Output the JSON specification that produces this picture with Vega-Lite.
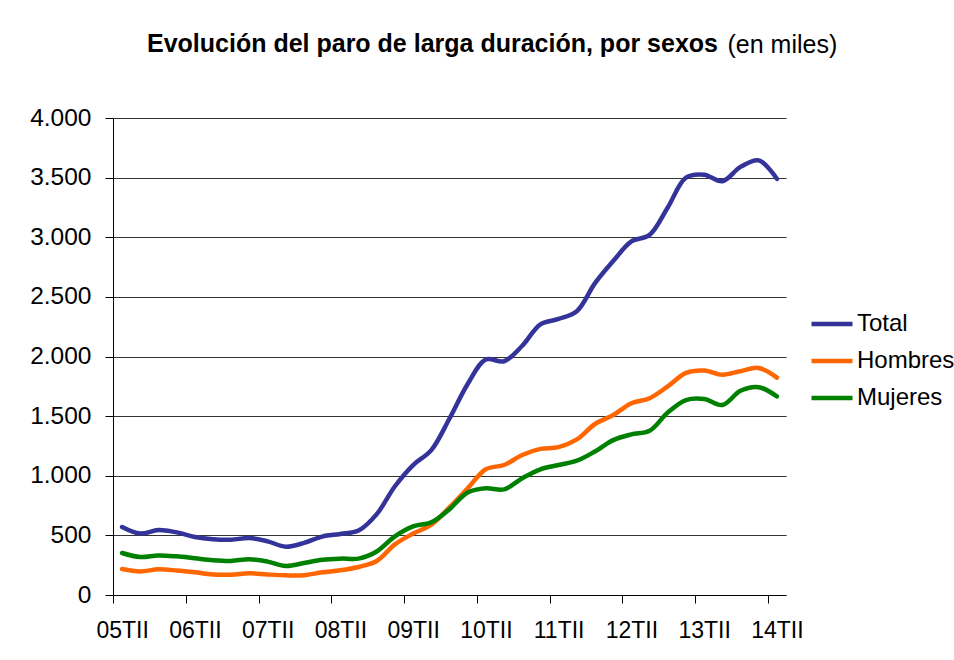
{
  "$schema": "https://vega.github.io/schema/vega-lite/v6.json",
  "autosize": "none",
  "width": 673,
  "height": 477,
  "padding": {"left": 113, "top": 118, "right": 168, "bottom": 65},
  "background": "white",
  "title": {
    "text": "Evolución del paro de larga duración, por sexos",
    "anchor": "start",
    "frame": "group",
    "dx": 34,
    "dy": 35,
    "offset": 10,
    "fontSize": 25,
    "fontWeight": "bold",
    "font": "Liberation Sans",
    "color": "black"
  },
  "data": {
    "values": [
      {"trimestre": "05TII", "Total": 570, "Hombres": 218, "Mujeres": 352},
      {"trimestre": "05TIII", "Total": 515, "Hombres": 198, "Mujeres": 318},
      {"trimestre": "05TIV", "Total": 545, "Hombres": 215, "Mujeres": 332},
      {"trimestre": "06TI", "Total": 525, "Hombres": 205, "Mujeres": 324},
      {"trimestre": "06TII", "Total": 487, "Hombres": 190, "Mujeres": 308},
      {"trimestre": "06TIII", "Total": 468, "Hombres": 172, "Mujeres": 292},
      {"trimestre": "06TIV", "Total": 464, "Hombres": 170, "Mujeres": 286},
      {"trimestre": "07TI", "Total": 477, "Hombres": 182, "Mujeres": 300},
      {"trimestre": "07TII", "Total": 450, "Hombres": 172, "Mujeres": 280},
      {"trimestre": "07TIII", "Total": 405, "Hombres": 165, "Mujeres": 243},
      {"trimestre": "07TIV", "Total": 437, "Hombres": 166, "Mujeres": 268},
      {"trimestre": "08TI", "Total": 490, "Hombres": 190, "Mujeres": 296},
      {"trimestre": "08TII", "Total": 512, "Hombres": 207, "Mujeres": 305},
      {"trimestre": "08TIII", "Total": 540, "Hombres": 235, "Mujeres": 305},
      {"trimestre": "08TIV", "Total": 678, "Hombres": 285, "Mujeres": 365},
      {"trimestre": "09TI", "Total": 912, "Hombres": 425, "Mujeres": 492},
      {"trimestre": "09TII", "Total": 1090, "Hombres": 515, "Mujeres": 575},
      {"trimestre": "09TIII", "Total": 1215, "Hombres": 590, "Mujeres": 610},
      {"trimestre": "09TIV", "Total": 1480, "Hombres": 735, "Mujeres": 720},
      {"trimestre": "10TI", "Total": 1770, "Hombres": 895, "Mujeres": 860},
      {"trimestre": "10TII", "Total": 1975, "Hombres": 1055, "Mujeres": 895},
      {"trimestre": "10TIII", "Total": 1960, "Hombres": 1090, "Mujeres": 886},
      {"trimestre": "10TIV", "Total": 2090, "Hombres": 1174, "Mujeres": 979},
      {"trimestre": "11TI", "Total": 2270, "Hombres": 1225, "Mujeres": 1054},
      {"trimestre": "11TII", "Total": 2315, "Hombres": 1240, "Mujeres": 1090},
      {"trimestre": "11TIII", "Total": 2380, "Hombres": 1305, "Mujeres": 1126},
      {"trimestre": "11TIV", "Total": 2615, "Hombres": 1434, "Mujeres": 1204},
      {"trimestre": "12TI", "Total": 2800, "Hombres": 1509, "Mujeres": 1299},
      {"trimestre": "12TII", "Total": 2965, "Hombres": 1608, "Mujeres": 1347},
      {"trimestre": "12TIII", "Total": 3020, "Hombres": 1650, "Mujeres": 1377},
      {"trimestre": "12TIV", "Total": 3250, "Hombres": 1749, "Mujeres": 1530},
      {"trimestre": "13TI", "Total": 3500, "Hombres": 1862, "Mujeres": 1635},
      {"trimestre": "13TII", "Total": 3525, "Hombres": 1883, "Mujeres": 1644},
      {"trimestre": "13TIII", "Total": 3470, "Hombres": 1847, "Mujeres": 1593},
      {"trimestre": "13TIV", "Total": 3590, "Hombres": 1877, "Mujeres": 1713},
      {"trimestre": "14TI", "Total": 3645, "Hombres": 1904, "Mujeres": 1743},
      {"trimestre": "14TII", "Total": 3490, "Hombres": 1823, "Mujeres": 1665}
    ]
  },
  "transform": [{"fold": ["Total", "Hombres", "Mujeres"], "as": ["serie", "miles"]}],
  "mark": {"type": "line", "strokeWidth": 4.5, "interpolate": "catmull-rom", "strokeCap": "round", "strokeJoin": "round"},
  "encoding": {
    "x": {
      "field": "trimestre",
      "type": "ordinal",
      "sort": null,
      "scale": {"type": "point", "padding": 0.5},
      "axis": {
        "values": ["05TII", "06TII", "07TII", "08TII", "09TII", "10TII", "11TII", "12TII", "13TII", "14TII"],
        "title": null,
        "labelAngle": 0,
        "tickOffset": -9.09,
        "labelOffset": 9.09,
        "tickSize": 8,
        "labelPadding": 16,
        "labelFontSize": 23,
        "grid": false
      }
    },
    "y": {
      "field": "miles",
      "type": "quantitative",
      "scale": {"domain": [0, 4000], "nice": false},
      "axis": {
        "values": [0, 500, 1000, 1500, 2000, 2500, 3000, 3500, 4000],
        "labelExpr": "replace(format(datum.value, ','), ',', '.')",
        "title": "(en miles)",
        "titleAngle": 0,
        "titleX": 614,
        "titleY": -66,
        "titleAlign": "left",
        "titleBaseline": "alphabetic",
        "titleFontSize": 25,
        "titleFontWeight": "normal",
        "titleColor": "black",
        "tickSize": 8,
        "labelPadding": 14,
        "labelFontSize": 24.5,
        "grid": true,
        "gridColor": "#333333",
        "gridWidth": 1
      }
    },
    "color": {
      "field": "serie",
      "type": "nominal",
      "scale": {"domain": ["Total", "Hombres", "Mujeres"], "range": ["#333399", "#FF6600", "#008000"]},
      "legend": {
        "orient": "none",
        "legendX": 696,
        "legendY": 183,
        "title": null,
        "symbolType": "stroke",
        "symbolStrokeWidth": 4.5,
        "symbolSize": 1681,
        "labelFontSize": 24,
        "labelOffset": 2,
        "rowPadding": 2,
        "padding": 0,
        "labelColor": "black"
      }
    }
  },
  "config": {
    "font": "Liberation Sans",
    "view": {"stroke": null},
    "axis": {
      "labelFont": "Liberation Sans",
      "labelColor": "black",
      "domainColor": "black",
      "domainWidth": 1,
      "tickColor": "black",
      "tickWidth": 1,
      "titleFont": "Liberation Sans"
    },
    "legend": {"labelFont": "Liberation Sans"}
  }
}
